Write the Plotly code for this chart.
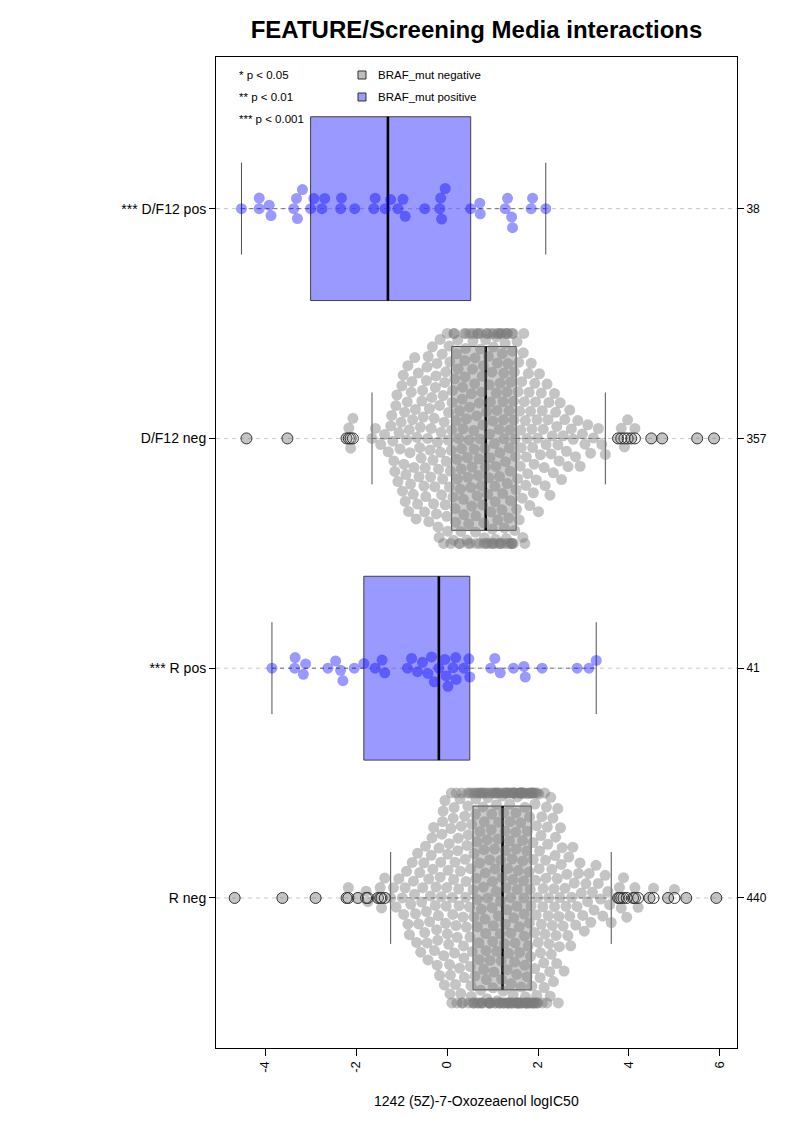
import math
import numpy as np
import plotly.graph_objects as go

# ---------------- data ----------------
group_labels = ["R neg", "*** R pos", "D/F12 neg", "*** D/F12 pos"]
group_counts = ["440", "41", "357", "38"]
group_status = ["negative", "positive", "negative", "positive"]

# individual values of the BRAF_mut positive groups
df12_pos_values = [-4.52, -4.13, -4.13, -3.87, -3.91, -3.18, -3.31, -3.37, -3.29,
                   -2.93, -3.00, -2.75, -2.69, -2.32, -2.34, -2.03, -1.58, -1.61,
                   -1.36, -1.24, -0.92, -1.08, -0.97, -0.49, -0.04, -0.14, -0.16,
                   -0.12, 0.52, 0.72, 0.73, 1.33, 1.28, 1.42, 1.44, 1.88, 1.85, 2.17]
r_pos_values = [-3.85, -3.34, -3.35, -3.11, -3.16, -2.62, -2.45, -2.34, -2.29, -2.04,
                -1.83, -1.58, -1.43, -1.37, -0.87, -0.78, -0.65, -0.54, -0.42, -0.34,
                -0.28, -0.18, -0.05, -0.02, 0.13, 0.20, 0.02, 0.19, 0.37, 0.48, 0.50,
                0.96, 1.05, 1.17, 1.46, 1.69, 1.72, 2.09, 2.86, 3.12, 3.28]

# BRAF_mut negative groups: histogram (bin edges + counts)
df12_neg_bin_edges = [-1.65, -1.5, -1.25, -1.0, -0.75, -0.5, -0.25, 0.0, 0.25, 0.5, 0.75,
                      1.0, 1.25, 1.5, 1.75, 2.0, 2.25, 2.5, 2.75, 3.0, 3.25, 3.48]
df12_neg_bin_counts = [2, 3, 11, 17, 16, 19, 22, 26, 26, 27, 29, 32, 32,
                       22, 16, 12, 10, 7, 5, 4, 3]
df12_neg_outliers = [-4.41, -3.51, -2.21, -2.16, -2.12, -2.07,
                     3.76, 3.83, 3.90, 3.97, 4.05, 4.13, 4.49, 4.73, 5.50, 5.87]

r_neg_bin_edges = [-1.24, -1.0, -0.75, -0.5, -0.25, 0.0, 0.25, 0.5, 0.75, 1.0, 1.25,
                   1.5, 1.75, 2.0, 2.25, 2.5, 2.75, 3.0, 3.25, 3.5, 3.61]
r_neg_bin_counts = [4, 8, 11, 14, 19, 25, 26, 33, 34, 36, 40, 43, 40,
                    25, 21, 12, 8, 7, 5, 3]
r_neg_outliers = [-4.67, -3.62, -2.89, -2.21, -2.17, -1.96, -1.78, -1.74, -1.52, -1.47,
                  -1.44, -1.37,
                  3.76, 3.79, 3.83, 3.88, 3.95, 4.09, 4.13, 4.20, 4.45, 4.54, 4.86,
                  5.00, 5.26, 5.92]

# box statistics (order: R neg, R pos, D/F12 neg, D/F12 pos)
whisker_lo = [-1.24, -3.85, -1.65, -4.52]
q1 = [0.57, -1.83, 0.10, -3.00]
median = [1.22, -0.18, 0.85, -1.30]
q3 = [1.85, 0.50, 1.52, 0.52]
whisker_hi = [3.61, 3.28, 3.48, 2.17]

x_ticks = [-4, -2, 0, 2, 4, 6]
title_text = "FEATURE/Screening Media interactions"
x_title = "1242 (5Z)-7-Oxozeaenol logIC50"
p_legend = ["* p < 0.05", "** p < 0.01", "*** p < 0.001"]
status_legend = ["BRAF_mut negative", "BRAF_mut positive"]

# ---------------- geometry helpers ----------------
PAGE_OFF = 8            # default body margin of the html page
W, H = 793 - PAGE_OFF, 1122 - PAGE_OFF
PL, PR, PT, PB = 216, 737, 57, 1048   # plot frame in page pixels
L, R, T, B = PL - PAGE_OFF, 793 - PR, PT - PAGE_OFF, 1122 - PB
x_range = [-5.08, 6.375]
y_range = [0.347, 4.66]
px_per_x = (PR - PL) / (x_range[1] - x_range[0])
px_per_y = (PB - PT) / (y_range[1] - y_range[0])

point_size = 11
spacing = 10.6
corral = 0.457  # gutter half-width in y units
box_half = 0.4
staple_half = 0.2


def expand_bins(edges, counts):
    vals = []
    nb = len(counts)
    for k, c in enumerate(counts):
        a, b = edges[k], edges[k + 1]
        for i in range(c):
            if k == 0:
                f = i / c
            elif k == nb - 1:
                f = (i + 1) / c
            else:
                f = (i + 0.5) / c
            vals.append(a + (b - a) * f)
    return vals


def swarm(vals):
    xs = np.asarray(vals, float) * px_per_x
    order = np.argsort(xs, kind="stable")
    ys = np.zeros(len(xs))
    px_list, py_list = [], []
    for i in order:
        x = xs[i]
        ivs = []
        cands = [0.0]
        for pxv, pyv in zip(px_list, py_list):
            dx = abs(x - pxv)
            if dx < spacing:
                h = math.sqrt(spacing * spacing - dx * dx)
                ivs.append((pyv - h, pyv + h))
                cands.append(pyv - h)
                cands.append(pyv + h)
        cands.sort(key=lambda c: (round(abs(c), 6), -c))
        chosen = 0.0
        for c in cands:
            ok = True
            for lo, hi in ivs:
                if lo + 1e-7 < c < hi - 1e-7:
                    ok = False
                    break
            if ok:
                chosen = c
                break
        ys[i] = chosen
        px_list.append(x)
        py_list.append(chosen)
    off = ys / px_per_y
    off = np.clip(off, -corral, corral)
    return off


df12_neg_values = expand_bins(df12_neg_bin_edges, df12_neg_bin_counts) + df12_neg_outliers
r_neg_values = expand_bins(r_neg_bin_edges, r_neg_bin_counts) + r_neg_outliers
group_values = [r_neg_values, r_pos_values, df12_neg_values, df12_pos_values]
group_outliers = [r_neg_outliers, [], df12_neg_outliers, []]

point_color = {"negative": "rgba(125,125,125,0.45)", "positive": "rgba(0,0,255,0.40)"}
box_fill = {"negative": "rgba(140,140,140,0.45)", "positive": "rgba(0,0,255,0.40)"}

fig = go.Figure()
shapes = []
dash = "4px,4px"

for g in range(4):
    yc = g + 1
    st = group_status[g]
    shapes.append(dict(type="line", xref="paper", yref="y", x0=0, x1=1, y0=yc, y1=yc,
                       line=dict(color="#C8C8C8", width=1, dash=dash), layer="below"))
    for a, b in [(whisker_lo[g], q1[g]), (q3[g], whisker_hi[g])]:
        shapes.append(dict(type="line", xref="x", yref="y", x0=a, x1=b, y0=yc, y1=yc,
                           line=dict(color="#707070", width=1, dash=dash), layer="below"))
    for w in [whisker_lo[g], whisker_hi[g]]:
        shapes.append(dict(type="line", xref="x", yref="y", x0=w, x1=w,
                           y0=yc - staple_half, y1=yc + staple_half,
                           line=dict(color="#505050", width=1), layer="below"))
    shapes.append(dict(type="rect", xref="x", yref="y", x0=q1[g], x1=q3[g],
                       y0=yc - box_half, y1=yc + box_half,
                       fillcolor=box_fill[st], line=dict(color="#404040", width=1),
                       layer="below"))
    shapes.append(dict(type="line", xref="x", yref="y", x0=median[g], x1=median[g],
                       y0=yc - box_half, y1=yc + box_half,
                       line=dict(color="black", width=2.6), layer="below"))

    vals = group_values[g]
    off = swarm(vals)
    fig.add_trace(go.Scatter(
        x=vals, y=yc + off, mode="markers", hoverinfo="skip", showlegend=False,
        marker=dict(size=point_size, color=point_color[st], line=dict(width=0))))
    if group_outliers[g]:
        fig.add_trace(go.Scatter(
            x=group_outliers[g], y=[yc] * len(group_outliers[g]), mode="markers",
            hoverinfo="skip", showlegend=False,
            marker=dict(size=point_size, color="rgba(0,0,0,0)",
                        line=dict(width=1, color="#333333"))))

# invisible trace bound to the right-hand axis so it is drawn
fig.add_trace(go.Scatter(x=median, y=[1, 2, 3, 4], yaxis="y2", mode="markers",
                         marker=dict(opacity=0), hoverinfo="skip", showlegend=False))


def ppx(xp):  # page pixel -> paper x
    return (xp - PL) / (PR - PL)


def ppy(yp):  # page pixel -> paper y
    return (PB - yp) / (PB - PT)


legend_fill = ["#BEBEBE", "#9999FF"]
for k in range(2):
    yc_px = 75 + 22 * k
    shapes.append(dict(type="rect", xref="paper", yref="paper",
                       x0=ppx(358), x1=ppx(366), y0=ppy(yc_px + 4), y1=ppy(yc_px - 4),
                       fillcolor=legend_fill[k], line=dict(color="#333333", width=1)))

annotations = []
for k, t in enumerate(p_legend):
    annotations.append(dict(text=t, xref="paper", yref="paper", x=ppx(237), y=ppy(75 + 22 * k),
                            xanchor="left", yanchor="middle", showarrow=False,
                            font=dict(size=11.5, color="black")))
for k, t in enumerate(status_legend):
    annotations.append(dict(text=t, xref="paper", yref="paper", x=ppx(376), y=ppy(75 + 22 * k),
                            xanchor="left", yanchor="middle", showarrow=False,
                            font=dict(size=11.5, color="black")))
annotations.append(dict(text=x_title, xref="paper", yref="paper", x=0.5, y=ppy(1101),
                        xanchor="center", yanchor="middle", showarrow=False,
                        font=dict(size=14, color="black")))

fig.update_layout(
    width=W, height=H,
    margin=dict(l=L, r=R, t=T, b=B, pad=0),
    paper_bgcolor="white", plot_bgcolor="white",
    font=dict(family="Liberation Sans, Arial, Helvetica, sans-serif", color="black"),
    title=dict(text="<b>" + title_text + "</b>", x=(476.5 - PAGE_OFF) / W,
               xanchor="center", y=1 - (30 - PAGE_OFF) / H, yanchor="middle",
               font=dict(size=24, color="black")),
    xaxis=dict(range=x_range, tickvals=x_ticks, ticktext=[str(v) for v in x_ticks],
               tickangle=-90, ticks="outside", ticklen=7, tickcolor="black",
               tickfont=dict(size=13), showgrid=False, zeroline=False,
               showline=True, linecolor="black", linewidth=1, mirror=True),
    yaxis=dict(range=y_range, tickvals=[1, 2, 3, 4], ticktext=group_labels,
               ticks="outside", ticklen=6, tickcolor="black", tickfont=dict(size=14),
               showgrid=False, zeroline=False, showline=True, linecolor="black",
               linewidth=1, mirror=True),
    yaxis2=dict(range=y_range, overlaying="y", side="right", tickvals=[1, 2, 3, 4],
                ticktext=group_counts, ticks="outside", ticklen=6, tickcolor="black",
                tickfont=dict(size=12), showgrid=False, zeroline=False, showline=False),
    shapes=shapes,
    annotations=annotations,
    showlegend=False,
)

fig.write_html("out.html")
